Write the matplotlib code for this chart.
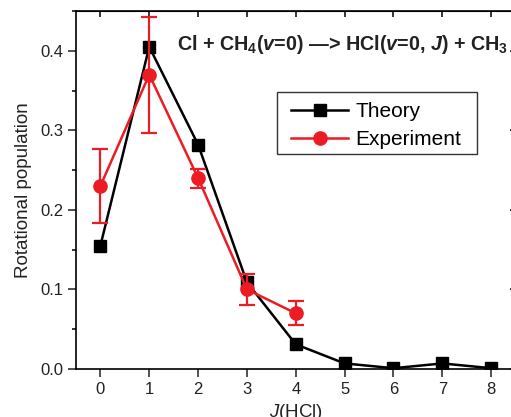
import matplotlib
matplotlib.use("Agg")
import matplotlib.pyplot as plt
from matplotlib.lines import Line2D
from matplotlib.patches import Rectangle
from matplotlib.ticker import MultipleLocator, FormatStrFormatter

plt.rcParams["font.family"] = ["Liberation Sans", "DejaVu Sans"]
plt.rcParams["mathtext.fontset"] = "custom"
plt.rcParams["mathtext.rm"] = "Liberation Sans:bold"
plt.rcParams["mathtext.it"] = "Liberation Sans:bold:italic"
plt.rcParams["mathtext.sf"] = "Liberation Sans:italic"

j_theory = [0, 1, 2, 3, 4, 5, 6, 7, 8]
pop_theory = [0.155, 0.405, 0.282, 0.109, 0.031, 0.007, 0.001, 0.007, 0.001]

j_exp = [0, 1, 2, 3, 4]
pop_exp = [0.230, 0.370, 0.240, 0.100, 0.070]
err_exp = [0.047, 0.073, 0.012, 0.019, 0.015]

red = "#ec1c24"

fig = plt.figure(figsize=(5.11, 4.17), dpi=100)
ax = fig.add_axes([0.1487, 0.1151, 0.8603, 0.8585])

ax.plot(j_theory, pop_theory, color="black", lw=1.8, marker="s", ms=8.5, zorder=3)
ax.errorbar(j_exp, pop_exp, yerr=err_exp, color=red, lw=1.8, marker="o", ms=9.5,
            elinewidth=1.6, capsize=5.5, capthick=1.6, zorder=4)

ax.set_xlim(-0.5, 8.5)
ax.set_ylim(0, 0.45)
ax.xaxis.set_major_locator(MultipleLocator(1))
ax.yaxis.set_major_locator(MultipleLocator(0.1))
ax.yaxis.set_minor_locator(MultipleLocator(0.05))
ax.yaxis.set_major_formatter(FormatStrFormatter("%.1f"))

for s in ax.spines.values():
    s.set_linewidth(1.2)
ax.tick_params(which="major", direction="out", length=5.5, width=1.1,
               labelsize=12, colors="#222222")
ax.tick_params(which="minor", direction="out", length=3, width=1.1)

top = ax.secondary_xaxis("top")
top.xaxis.set_major_locator(MultipleLocator(1))
top.tick_params(direction="in", length=4.5, width=1.1, labeltop=False)
right = ax.secondary_yaxis("right")
right.yaxis.set_major_locator(MultipleLocator(0.1))
right.tick_params(direction="in", length=4.5, width=1.1, labelright=False)

ax.set_ylabel("Rotational population", fontsize=13.5, color="#222222", labelpad=6)
ax.set_xlabel(r"$\mathsf{J}$(HCl)", fontsize=13.5, color="#222222", labelpad=4)

ax.text(1.575, 0.408, r"Cl + CH$_4$($v$=0) —> HCl($v$=0, $J$) + CH$_3$",
        fontsize=14.2, fontweight="bold", color="#222222", ha="left", va="center")

# legend: line + marker handles, with a separate frame box
handles = [
    Line2D([], [], color="black", lw=1.8, marker="s", ms=8.5),
    Line2D([], [], color=red, lw=1.8, marker="o", ms=9.5),
]
ax.add_patch(Rectangle((0.4572, 0.6006), 0.455, 0.1732, transform=ax.transAxes,
                       fill=False, edgecolor="#333333", lw=1.0, zorder=5))
ax.legend(handles, ["Theory", "Experiment"], loc="upper left",
          bbox_to_anchor=(0.489, 0.745), borderaxespad=0, borderpad=0,
          fontsize=15, frameon=False, handlelength=2.75,
          labelspacing=0.42, handletextpad=0.35)

fig.savefig("out.png", dpi=100)
